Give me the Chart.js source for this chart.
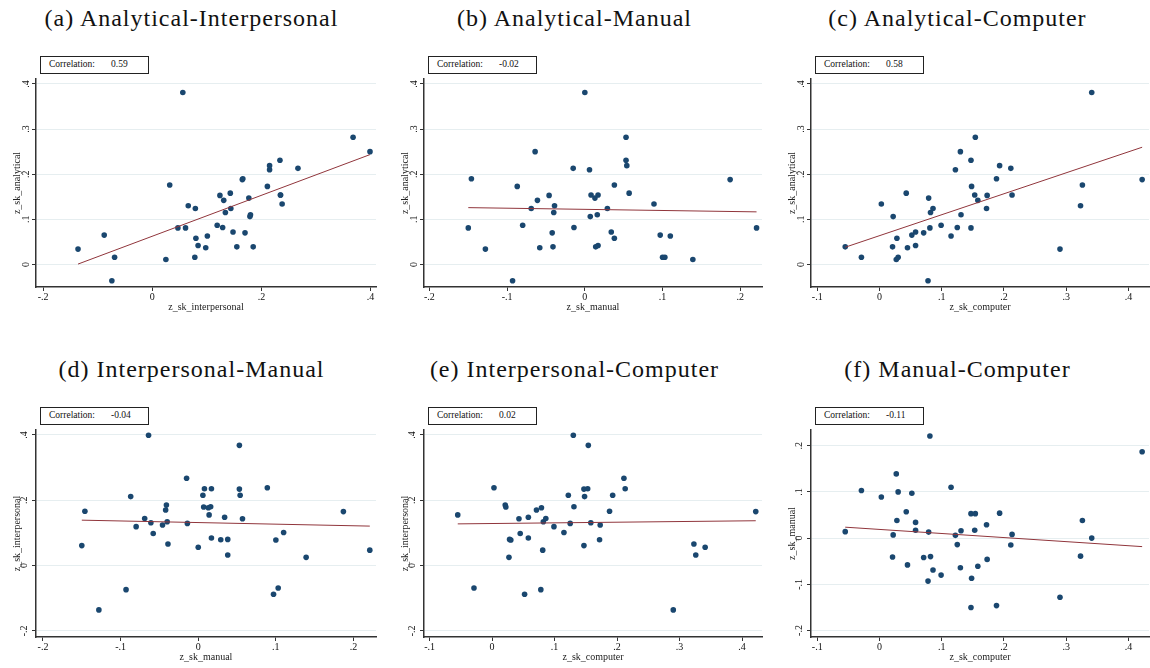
<!DOCTYPE html>
<html>
<head>
<meta charset="utf-8">
<script src="https://cdn.jsdelivr.net/npm/chart.js@4.4.1/dist/chart.umd.min.js"></script>
<style>
  body { margin: 0; background: #fff; width: 1150px; height: 668px; position: relative; overflow: hidden; font-family: "Liberation Serif", serif; }
  .ttl { position: absolute; width: 383px; text-align: center; font-size: 24px; letter-spacing: 1px; color: #111; white-space: nowrap; }
  .corr { position: absolute; width: 107px; height: 16px; border: 1.5px solid #222; font-size: 9.5px; color: #111; }
  .corr span { position: absolute; top: 2px; }
  .pane { position: absolute; }
</style>
</head>
<body>
<script>
// one row per unit, four skill measures
const analytical = [-0.036, 0.011, 0.016, 0.016, 0.034, 0.037, 0.039, 0.039, 0.042, 0.058, 0.063, 0.065, 0.070, 0.072, 0.081, 0.081, 0.082, 0.087, 0.106, 0.110, 0.115, 0.124, 0.124, 0.130, 0.134, 0.142, 0.147, 0.153, 0.154, 0.154, 0.158, 0.173, 0.176, 0.188, 0.190, 0.210, 0.213, 0.219, 0.231, 0.250, 0.282, 0.381];
const interpersonal = [-0.074, 0.025, -0.069, 0.078, -0.136, 0.098, 0.185, 0.155, 0.084, 0.080, 0.101, -0.088, 0.170, 0.148, 0.061, 0.047, 0.129, 0.119, 0.179, 0.180, 0.134, 0.144, 0.079, 0.066, 0.238, 0.131, 0.177, 0.124, 0.235, 0.235, 0.143, 0.211, 0.032, 0.165, 0.166, 0.215, 0.267, 0.215, 0.234, 0.399, 0.368, 0.056];
const manual = [-0.093, 0.139, 0.103, 0.100, -0.128, -0.058, -0.041, 0.014, 0.017, 0.038, 0.110, 0.097, -0.042, 0.034, -0.150, 0.221, -0.014, -0.080, 0.007, 0.016, -0.040, -0.069, 0.029, -0.039, 0.089, -0.061, 0.013, -0.046, 0.017, 0.008, 0.057, -0.087, 0.038, 0.187, -0.146, 0.006, -0.015, 0.054, 0.053, -0.064, 0.053, 0.000];
const computer = [0.078, 0.027, -0.029, 0.030, 0.290, 0.045, 0.021, -0.055, 0.058, 0.028, 0.115, 0.052, 0.071, 0.058, 0.147, 0.081, 0.125, 0.099, 0.022, 0.131, 0.082, 0.086, 0.172, 0.323, 0.003, 0.158, 0.079, 0.173, 0.153, 0.213, 0.043, 0.148, 0.326, 0.422, 0.188, 0.122, 0.211, 0.193, 0.147, 0.130, 0.154, 0.341];

const titles = ["(a) Analytical-Interpersonal", "(b) Analytical-Manual", "(c) Analytical-Computer",
                "(d) Interpersonal-Manual", "(e) Interpersonal-Computer", "(f) Manual-Computer"];
const correlations = ["0.59", "-0.02", "0.58", "-0.04", "0.02", "-0.11"];

// tick values
const ticksWide = [-0.2, 0, 0.2, 0.4];
const ticksManual = [-0.2, -0.1, 0, 0.1, 0.2];
const ticksComputer = [-0.1, 0, 0.1, 0.2, 0.3, 0.4];
const ticksAnalytical = [0, 0.1, 0.2, 0.3, 0.4];
const ticksInterpersonal = [-0.2, 0, 0.2, 0.4];
const ticksManualY = [-0.2, -0.1, 0, 0.1, 0.2];

const panels = [
  { x: interpersonal, y: analytical, xName: "z_sk_interpersonal", yName: "z_sk_analytical", xt: ticksWide, yt: ticksAnalytical, xr: [-0.213, 0.41], yr: [-0.05, 0.411], box: [36, 79, 376, 287] },
  { x: manual, y: analytical, xName: "z_sk_manual", yName: "z_sk_analytical", xt: ticksManual, yt: ticksAnalytical, xr: [-0.207, 0.228], yr: [-0.05, 0.411], box: [424, 79, 762, 287] },
  { x: computer, y: analytical, xName: "z_sk_computer", yName: "z_sk_analytical", xt: ticksComputer, yt: ticksAnalytical, xr: [-0.11, 0.433], yr: [-0.05, 0.411], box: [811, 79, 1149, 287] },
  { x: manual, y: interpersonal, xName: "z_sk_manual", yName: "z_sk_interpersonal", xt: ticksManual, yt: ticksInterpersonal, xr: [-0.209, 0.229], yr: [-0.219, 0.415], box: [36, 430, 376, 637] },
  { x: computer, y: interpersonal, xName: "z_sk_computer", yName: "z_sk_interpersonal", xt: ticksComputer, yt: ticksInterpersonal, xr: [-0.109, 0.432], yr: [-0.219, 0.415], box: [424, 430, 762, 637] },
  { x: computer, y: manual, xName: "z_sk_computer", yName: "z_sk_manual", xt: ticksComputer, yt: ticksManualY, xr: [-0.11, 0.433], yr: [-0.214, 0.234], box: [811, 430, 1149, 637] }
];

// stata style: ".2", "-.1", "0"
function fmt(v) {
  if (Math.abs(v) < 1e-9) return "0";
  return (v < 0 ? "-" : "") + String(+Math.abs(v).toFixed(2)).replace(/^0/, "");
}

// linear fit over the observed x range
function fitLine(xs, ys) {
  const n = xs.length;
  const mx = xs.reduce((s, v) => s + v, 0) / n;
  const my = ys.reduce((s, v) => s + v, 0) / n;
  let sxy = 0, sxx = 0;
  xs.forEach((v, i) => { sxy += (v - mx) * (ys[i] - my); sxx += (v - mx) * (v - mx); });
  const b = sxy / sxx, a = my - b * mx;
  const lo = Math.min(...xs), hi = Math.max(...xs);
  return [{ x: lo, y: a + b * lo }, { x: hi, y: a + b * hi }];
}

const font = { family: "'Liberation Serif', serif", size: 10 };

panels.forEach((p, i) => {
  const [left, top, right, bottom] = p.box;
  const col = i % 3, row = Math.floor(i / 3);

  const t = document.createElement("div");
  t.className = "ttl";
  t.style.left = (col * 383) + "px";
  t.style.top = (row * 351 + 5) + "px";
  t.textContent = titles[i];
  document.body.appendChild(t);

  const c = document.createElement("div");
  c.className = "corr";
  c.style.left = (left + 4) + "px";
  c.style.top = (top - 23) + "px";
  c.innerHTML = `<span style="left:8px">Correlation:</span><span style="left:70px">${correlations[i]}</span>`;
  document.body.appendChild(c);

  const cl = left - 36, ct = top - 10;
  const w = right - cl + 6, h = bottom - ct + 30;
  const wrap = document.createElement("div");
  wrap.className = "pane";
  wrap.style.left = cl + "px";
  wrap.style.top = ct + "px";
  const cv = document.createElement("canvas");
  cv.width = w; cv.height = h;
  cv.style.width = w + "px"; cv.style.height = h + "px";
  wrap.appendChild(cv);
  document.body.appendChild(wrap);

  new Chart(cv, {
    data: {
      datasets: [
        { type: "line", data: fitLine(p.x, p.y), borderColor: "#90353b", borderWidth: 1, pointRadius: 0, fill: false },
        { type: "scatter", data: p.x.map((v, k) => ({ x: v, y: p.y[k] })), backgroundColor: "#1a476f", borderWidth: 0, pointRadius: 2.8, clip: false }
      ]
    },
    options: {
      responsive: false,
      animation: false,
      devicePixelRatio: 1,
      layout: { padding: { top: 10, right: 6, left: 0, bottom: 0 } },
      plugins: { legend: { display: false }, tooltip: { enabled: false } },
      scales: {
        x: {
          type: "linear", min: p.xr[0], max: p.xr[1],
          afterBuildTicks: s => { s.ticks = p.xt.map(v => ({ value: v })); },
          afterFit: s => { s.height = 30; },
          grid: { drawOnChartArea: false, tickLength: 4, tickColor: "#333" },
          border: { display: true, color: "#333", width: 1.5 },
          ticks: { font: font, color: "#111", padding: 0, maxRotation: 0, callback: v => fmt(v) },
          title: { display: true, text: p.xName, font: font, color: "#222", padding: { top: 0, bottom: 4 } }
        },
        y: {
          type: "linear", min: p.yr[0], max: p.yr[1],
          afterBuildTicks: s => { s.ticks = p.yt.map(v => ({ value: v })); },
          afterFit: s => { s.width = 36; },
          grid: { color: "#e6eef0", lineWidth: 1, tickLength: 4, tickColor: "#333" },
          border: { display: true, color: "#333", width: 1.5 },
          ticks: { font: font, color: "#111", padding: 2, minRotation: 90, maxRotation: 90, crossAlign: "center", callback: v => fmt(v) },
          title: { display: true, text: p.yName, font: font, color: "#222", padding: { top: 11, bottom: 0 } }
        }
      }
    }
  });
});
</script>
</body>
</html>
